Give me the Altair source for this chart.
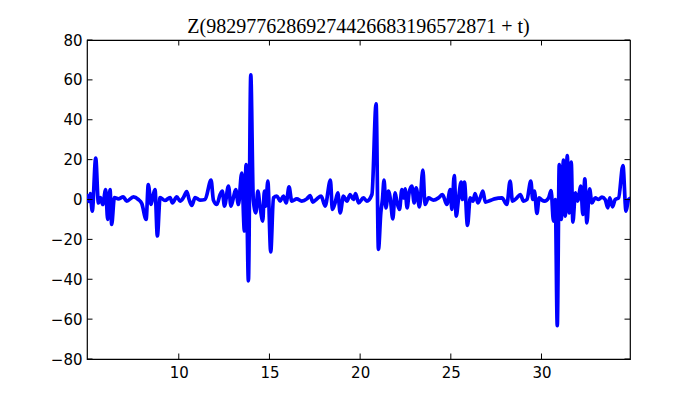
import altair as alt
import pandas as pd

t_vals = [
    4.95, 5.05, 5.12, 5.23, 5.42, 5.57, 5.68, 5.81, 5.97, 6.08, 6.21, 6.30, 6.45,
    6.67, 6.94, 7.13, 7.50, 7.77, 7.96, 8.20, 8.32, 8.47, 8.60, 8.69, 8.82, 8.97,
    9.24, 9.52, 9.65, 9.89, 10.07, 10.26, 10.44, 10.57, 10.72, 10.90, 11.17, 11.45,
    11.78, 11.91, 12.10, 12.28, 12.40, 12.52, 12.74, 12.88, 13.01, 13.14, 13.29,
    13.47, 13.62, 13.71, 13.84, 13.97, 14.11, 14.25, 14.36, 14.48, 14.63, 14.72,
    14.80, 14.91, 15.07, 15.22, 15.41, 15.59, 15.77, 15.92, 16.08, 16.23, 16.51,
    16.78, 17.06, 17.24, 17.39, 17.61, 17.85, 18.07, 18.36, 18.47, 18.62, 18.77,
    18.90, 19.08, 19.27, 19.45, 19.63, 19.75, 19.91, 20.18, 20.37, 20.65, 20.88,
    21.01, 21.14, 21.23, 21.32, 21.42, 21.56, 21.67, 21.80, 21.93, 22.02, 22.17,
    22.30, 22.39, 22.48, 22.59, 22.70, 22.85, 22.98, 23.09, 23.27, 23.46, 23.58,
    23.77, 24.04, 24.32, 24.54, 24.78, 24.97, 25.06, 25.19, 25.30, 25.42, 25.57,
    25.64, 25.75, 25.92, 26.07, 26.22, 26.34, 26.49, 26.62, 26.77, 26.90, 27.17,
    27.41, 27.82, 28.09, 28.27, 28.40, 28.64, 28.83, 29.01, 29.20, 29.41, 29.52,
    29.61, 29.75, 29.87, 30.02, 30.17, 30.39, 30.53, 30.66, 30.76, 30.87, 30.98,
    31.09, 31.21, 31.31, 31.42, 31.53, 31.64, 31.73, 31.87, 31.99, 32.17, 32.28,
    32.39, 32.50, 32.65, 32.78, 32.96, 33.15, 33.33, 33.51, 33.66, 33.76, 33.92,
    34.06, 34.25, 34.49, 34.66, 34.80, 34.88,
]
z_vals = [
    2.0, -1.0, 3.0, -5.8, 20.8, -1.7, 1.0, -2.5, 5.0, -10.0, 5.0, -12.5, 1.0,
    0.3, 1.3, -0.8, 1.3, 0.0, -2.0, -10.0, 7.5, -2.5, 2.5, 5.0, -18.3, 1.0,
    -0.5, 1.0, -1.7, 1.3, -0.8, 1.0, 4.0, 0.0, -3.0, 1.0, -0.3, 0.0,
    9.7, -0.3, -2.5, 2.5, 4.2, -3.3, 6.7, -3.3, 0.8, 5.0, -2.5,
    13.3, -15.8, 17.5, -40.8, 62.5, 0.0, -6.7, 4.2, -3.3, -10.8, 4.2,
    -3.3, 9.2, -26.3, 0.8, 1.7, -0.8, 1.7, -1.7, 6.3, -0.8, 0.3,
    -0.8, 0.3, 2.0, -1.3, 0.3, 1.7, -3.3, 9.7, -5.0, -1.7, 3.3,
    -6.7, 1.7, -0.8, 2.5, 0.0, 3.0, -1.7, 0.8, -0.8, 2.5, 48.0,
    -25.0, -6.7, 0.0, 9.7, -4.2, 4.2, 0.0, -9.7, 3.3, -0.8, -5.0,
    5.0, 0.8, 5.3, -4.2, 3.3, 6.7, -1.7, 5.8, -3.7, 14.7, -2.5,
    0.8, -0.3, 0.8, 2.5, -2.5, 5.0, -5.0, 12.0, -8.3, 0.0, 8.7,
    0.0, 8.7, -13.0, 0.8, -0.8, 3.0, -1.7, 0.8, 4.2, -1.3, -0.5,
    0.3, 0.8, -2.5, 9.2, -0.8, 0.8, 2.5, -0.8, 0.0, 9.2, 0.0,
    4.2, -7.0, 0.8, -0.3, -0.8, 0.8, 4.5, -10.8, 0.0, -63.3, 17.5,
    -10.0, 19.7, -8.3, 22.0, -6.7, 18.7, -11.3, 3.3, -0.8, 6.7, -7.5,
    10.3, -11.7, 5.3, -1.7, 0.8, 0.0, 1.2, 0.0, -4.2, 0.8, -3.7,
    0.0, 0.8, 17.0, -5.8, 0.0, 0.5,
]
x_ticks = [10, 15, 20, 25, 30]
y_ticks = [-80, -60, -40, -20, 0, 20, 40, 60, 80]
title_text = "Z(98297762869274426683196572871 + t)"

W, H = 543, 319
TL = 5.5

df = pd.DataFrame({"t": t_vals, "Z": z_vals})
xt = pd.DataFrame({"t": x_ticks})
yt = pd.DataFrame({"Z": y_ticks})

xscale = alt.Scale(domain=[4.94, 34.88], nice=False, zero=False)
yscale = alt.Scale(domain=[-80, 80], nice=False, zero=False)

label_font = "DejaVu Sans"


def x_axis():
    return alt.Axis(values=x_ticks, title=None, grid=False, domain=False,
                    ticks=False, tickSize=0, labelPadding=6, labelFontSize=15,
                    labelFont=label_font, labelColor="black", labelFlush=False,
                    labelOverlap=False)


def y_axis():
    return alt.Axis(values=y_ticks, title=None, grid=False, domain=False,
                    ticks=False, tickSize=0, labelPadding=5, labelFontSize=15,
                    labelFont=label_font, labelColor="black", labelFlush=False,
                    labelOverlap=False)


line = alt.Chart(df).mark_line(
    color="#0000ff", strokeWidth=3.7, clip=True, interpolate="monotone",
    strokeJoin="round", strokeCap="round",
).encode(
    x=alt.X("t:Q", scale=xscale, axis=x_axis()),
    y=alt.Y("Z:Q", scale=yscale, axis=y_axis()),
)

bottom_ticks = alt.Chart(xt).mark_rule(color="black", strokeWidth=1).encode(
    x=alt.X("t:Q", scale=xscale, axis=x_axis()), y=alt.value(H), y2=alt.value(H - TL))
top_ticks = alt.Chart(xt).mark_rule(color="black", strokeWidth=1).encode(
    x=alt.X("t:Q", scale=xscale, axis=x_axis()), y=alt.value(0), y2=alt.value(TL))
left_ticks = alt.Chart(yt).mark_rule(color="black", strokeWidth=1).encode(
    y=alt.Y("Z:Q", scale=yscale, axis=y_axis()), x=alt.value(0), x2=alt.value(TL))
right_ticks = alt.Chart(yt).mark_rule(color="black", strokeWidth=1).encode(
    y=alt.Y("Z:Q", scale=yscale, axis=y_axis()), x=alt.value(W), x2=alt.value(W - TL))

chart = alt.layer(line, bottom_ticks, top_ticks, left_ticks, right_ticks).properties(
    width=W, height=H,
    title=alt.TitleParams(title_text, font="Liberation Serif", fontSize=20,
                          fontWeight="normal", color="black", anchor="middle", offset=-4),
    autosize=alt.AutoSizeParams(type="none"),
    padding={"left": 79, "top": 32, "right": 62, "bottom": 33},
    background="white",
).configure_view(stroke="black", strokeWidth=1.2)

chart.save("out.html", embed_options={"renderer": "svg", "actions": False})
